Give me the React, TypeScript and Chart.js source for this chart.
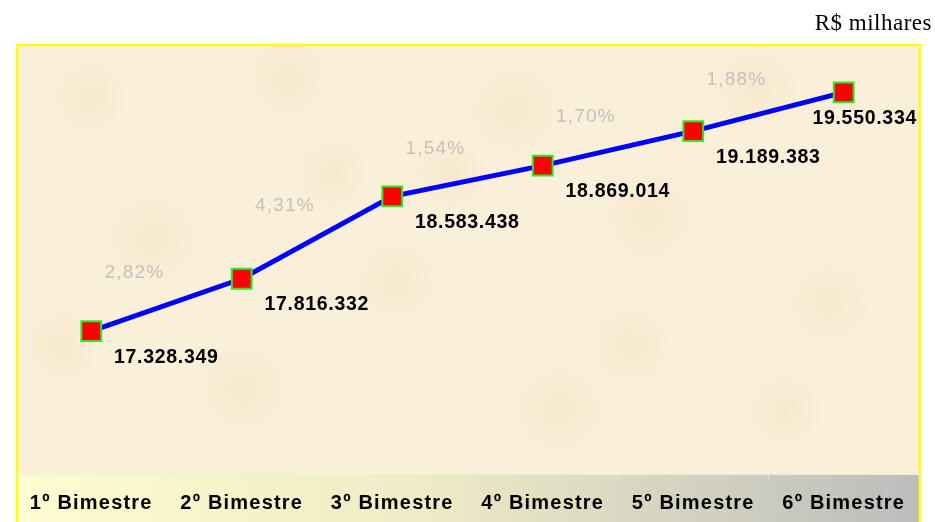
import React, { useEffect, useRef } from "react";
import { Chart, registerables } from "chart.js";

Chart.register(...registerables);

const categories = ["1º Bimestre", "2º Bimestre", "3º Bimestre", "4º Bimestre", "5º Bimestre", "6º Bimestre"];
const values = [17328349, 17816332, 18583438, 18869014, 19189383, 19550334];
const valueLabels = ["17.328.349", "17.816.332", "18.583.438", "18.869.014", "19.189.383", "19.550.334"];
const growthLabels = ["2,82%", "4,31%", "1,54%", "1,70%", "1,88%"];
const unitLabel = "R$ milhares";
const yMin = 16000000;
const yMax = 20000000;

const decorPlugin = {
  id: "decor",
  beforeDraw(chart: any) {
    const ctx = chart.ctx as CanvasRenderingContext2D;
    const { chartArea } = chart;
    const W = chart.width;
    const H = chart.height;
    ctx.save();
    ctx.fillStyle = "#ffffff";
    ctx.fillRect(0, 0, W, H);
    // beige panel
    const L = chartArea.left + 1;
    const T = chartArea.top + 1;
    const R = chartArea.right + 1;
    ctx.fillStyle = "#faefd9";
    ctx.fillRect(L, T, R - L, H - T);
    // soft mottling
    const blots = [
      [0.08, 0.12, 40], [0.3, 0.08, 45], [0.55, 0.15, 50], [0.82, 0.1, 45],
      [0.15, 0.45, 50], [0.42, 0.55, 45], [0.7, 0.4, 50], [0.9, 0.6, 45],
      [0.25, 0.8, 50], [0.6, 0.85, 50], [0.85, 0.85, 40], [0.05, 0.7, 40],
      [0.48, 0.3, 40], [0.68, 0.7, 45], [0.35, 0.3, 40],
    ];
    for (const [fx, fy, r] of blots) {
      const cx = L + fx * (R - L);
      const cy = T + fy * (chartArea.bottom - T);
      const g = ctx.createRadialGradient(cx, cy, 0, cx, cy, r);
      g.addColorStop(0, "rgba(238,220,186,0.35)");
      g.addColorStop(1, "rgba(238,220,186,0)");
      ctx.fillStyle = g;
      ctx.fillRect(cx - r, cy - r, 2 * r, 2 * r);
    }
    // axis band
    const bandTop = chartArea.bottom;
    const lg = ctx.createLinearGradient(L, 0, R, 0);
    lg.addColorStop(0, "#fefcd0");
    lg.addColorStop(0.45, "#eeebc6");
    lg.addColorStop(1, "#bcbcbc");
    ctx.fillStyle = lg;
    ctx.fillRect(L, bandTop, R - L - 1, H - bandTop);
    // yellow border
    ctx.strokeStyle = "#ffff00";
    ctx.lineWidth = 2.5;
    ctx.strokeRect(chartArea.left + 1, chartArea.top + 1, chartArea.right - chartArea.left, H);
    // unit label
    ctx.fillStyle = "#000000";
    ctx.font = "23px 'Liberation Serif', serif";
    (ctx as any).letterSpacing = "0.5px";
    ctx.textAlign = "right";
    ctx.textBaseline = "alphabetic";
    ctx.fillText(unitLabel, 932, 30);
    ctx.restore();
    (ctx as any).letterSpacing = "1.2px";
  },
  afterDatasetsDraw(chart: any) {
    const ctx = chart.ctx as CanvasRenderingContext2D;
    const xs = chart.scales.x;
    const ys = chart.scales.y;
    ctx.save();
    // growth labels
    ctx.font = "19px 'Liberation Sans', Arial, sans-serif";
    (ctx as any).letterSpacing = "1.2px";
    ctx.fillStyle = "#c4c2bd";
    ctx.textAlign = "center";
    ctx.textBaseline = "middle";
    growthLabels.forEach((t, i) => {
      const mx = (xs.getPixelForValue(i) + xs.getPixelForValue(i + 1)) / 2;
      const my = (ys.getPixelForValue(values[i]) + ys.getPixelForValue(values[i + 1])) / 2;
      ctx.fillText(t, mx - 32, my - 32);
    });
    // value labels
    ctx.font = "bold 19.5px 'Liberation Sans', Arial, sans-serif";
    (ctx as any).letterSpacing = "0.7px";
    ctx.fillStyle = "#000000";
    valueLabels.forEach((t, i) => {
      const px = xs.getPixelForValue(i);
      const py = ys.getPixelForValue(values[i]);
      const w = ctx.measureText(t).width;
      const cx = Math.min(px + 75, chart.chartArea.right - 2 - w / 2);
      ctx.fillText(t, cx, py + 26);
    });
    ctx.restore();
  },
  afterDraw(chart: any) {
    (chart.ctx as any).letterSpacing = "0px";
  },
};

export default function App() {
  const ref = useRef<HTMLCanvasElement | null>(null);
  useEffect(() => {
    document.body.style.margin = "0";
    const canvas = ref.current!;
    const chart = new Chart(canvas, {
      type: "line",
      data: {
        labels: categories,
        datasets: [
          {
            data: values,
            borderColor: "#0000ff",
            borderWidth: 5,
            tension: 0,
            pointStyle: "rect",
            pointRadius: 14,
            pointHoverRadius: 14,
            pointBackgroundColor: "#ff0000",
            pointBorderColor: "#22ee22",
            pointBorderWidth: 2,
            clip: false as any,
          },
        ],
      },
      options: {
        responsive: false,
        animation: false,
        layout: { padding: { left: 16, right: 15, top: 44, bottom: 0 } },
        plugins: { legend: { display: false }, tooltip: { enabled: false }, title: { display: false } },
        scales: {
          x: {
            offset: true,
            grid: {
              offset: true,
              drawOnChartArea: false,
              drawTicks: true,
              tickLength: 5,
              color: "rgba(215,245,200,0.9)",
            },
            border: { display: true, color: "rgba(225,245,205,0.9)", width: 1 },
            ticks: {
              color: "#000000",
              font: { family: "'Liberation Sans', Arial, sans-serif", size: 20, weight: "bold" },
              padding: 12,
              maxRotation: 0,
              autoSkip: false,
            },
            afterFit: (s: any) => {
              s.height = 48;
            },
          },
          y: { display: false, min: yMin, max: yMax },
        },
      },
      plugins: [decorPlugin],
    });
    return () => chart.destroy();
  }, []);
  return <canvas ref={ref} width={935} height={522} style={{ display: "block" }} />;
}
